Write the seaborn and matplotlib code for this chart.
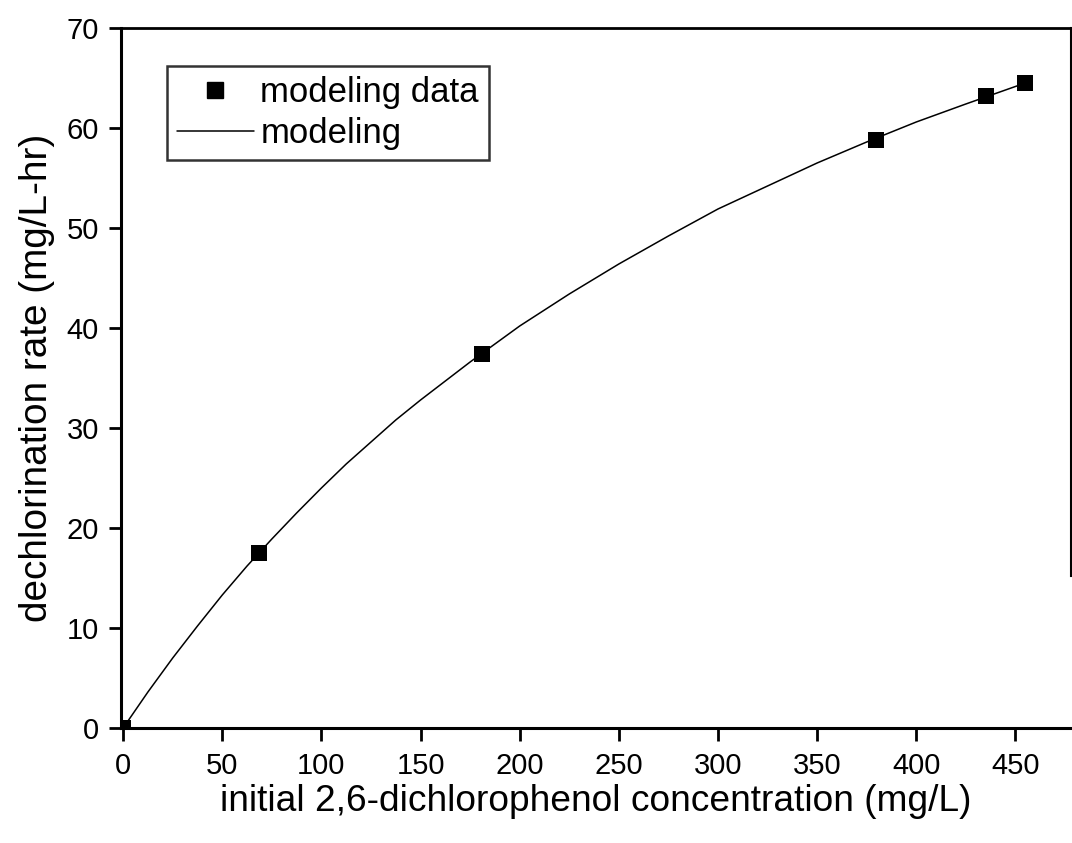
import numpy as np
import pandas as pd
import seaborn as sns
import matplotlib.pyplot as plt
from matplotlib.lines import Line2D

# measured points
conc = [0, 68.5, 181, 379.5, 435, 455]
rate = [0, 17.5, 37.4, 58.8, 63.2, 64.5]

# model curve
curve_x = [0, 12.5, 25, 37.5, 50, 62.5, 75, 87.5, 100, 112.5, 125, 137.5, 150,
           175, 200, 225, 250, 275, 300, 325, 350, 375, 400, 425, 455]
curve_y = [0, 3.6, 7.0, 10.2, 13.3, 16.2, 18.9, 21.5, 24.0, 26.4, 28.6, 30.8,
           32.8, 36.6, 40.2, 43.4, 46.4, 49.2, 51.9, 54.2, 56.5, 58.6, 60.6,
           62.4, 64.5]

pts = pd.DataFrame({'conc': conc, 'rate': rate})
fit = pd.DataFrame({'conc': curve_x, 'rate': curve_y})

sns.set_style('ticks')
plt.rcParams['font.family'] = ['Liberation Sans', 'DejaVu Sans']
plt.rcParams['text.color'] = 'black'
plt.rcParams['axes.labelcolor'] = 'black'
plt.rcParams['xtick.color'] = 'black'
plt.rcParams['ytick.color'] = 'black'

fig = plt.figure(figsize=(10.72, 8.43), dpi=100)
ax = fig.add_axes([0.113, 0.1364, 0.886, 0.8304])

sns.lineplot(data=fit, x='conc', y='rate', color='black', linewidth=1.1, ax=ax)
sns.scatterplot(data=pts, x='conc', y='rate', marker='s', s=130, color='black',
                edgecolor='black', linewidth=0, ax=ax, zorder=3)

ax.set_xlim(-1, 478)
ax.set_ylim(0, 70)
ax.set_xticks(range(0, 451, 50))
ax.set_yticks(range(0, 71, 10))
ax.tick_params(direction='out', length=9, width=2, labelsize=21, pad=7)
ax.tick_params(axis='x', pad=8)

for s in ax.spines.values():
    s.set_linewidth(2.2)
    s.set_color('black')
ax.spines['top'].set_linewidth(2.0)
ax.spines['right'].set_linewidth(1.5)
ax.spines['right'].set_bounds(15.2, 70)

ax.set_xlabel('initial 2,6-dichlorophenol concentration (mg/L)', fontsize=26.7, labelpad=3)
ax.set_ylabel('dechlorination rate (mg/L-hr)', fontsize=27.9, labelpad=8)

handles = [Line2D([], [], marker='s', color='black', linestyle='none', markersize=11),
           Line2D([], [], color='black', linewidth=1.1)]
leg = ax.legend(handles, ['modeling data', 'modeling'], loc='upper left',
                bbox_to_anchor=(0.048, 0.946), fontsize=25, frameon=True,
                fancybox=False, handlelength=2.2, handletextpad=0.2,
                labelspacing=0.22, borderpad=0.3, borderaxespad=0)
leg.get_frame().set_edgecolor('black')
leg.get_frame().set_linewidth(1.8)

fig.savefig('out.png', dpi=100)
